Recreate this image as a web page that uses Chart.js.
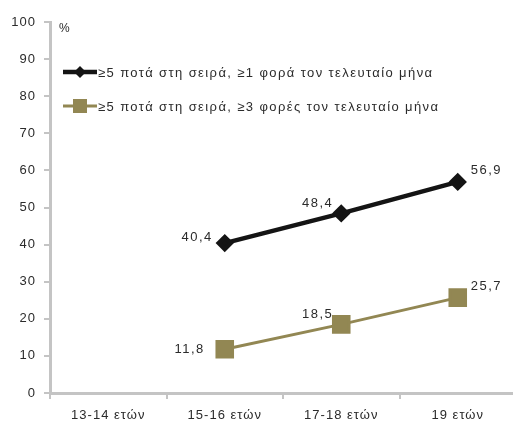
<!DOCTYPE html>
<html lang="el">
<head>
<meta charset="utf-8">
<script src="https://cdn.jsdelivr.net/npm/chart.js@4.4.1/dist/chart.umd.min.js"></script>
<style>
    html, body {
        margin: 0;
        padding: 0;
        background: #ffffff;
        overflow: hidden;
    }

    #wrap {
        position: relative;
        width: 513px;
        height: 426px;
        overflow: hidden;
    }
</style>
</head>
<body>
<div id="wrap">
    <!-- the plot runs past the right edge, so the canvas is a bit wider than the frame -->
    <canvas id="drinkChart" width="530" height="426"></canvas>
</div>

<script>
const ageGroups = ["13-14 ετών", "15-16 ετών", "17-18 ετών", "19 ετών"];

const onceLastMonth = [null, 40.4, 48.4, 56.9];
const threeTimesLastMonth = [null, 11.8, 18.5, 25.7];

const seriesNames = [
    "≥5 ποτά στη σειρά, ≥1 φορά τον τελευταίο μήνα",
    "≥5 ποτά στη σειρά, ≥3 φορές τον τελευταίο μήνα"
];

const yTicks = [0, 10, 20, 30, 40, 50, 60, 70, 80, 90, 100];

const FONT = "'Liberation Sans', Arial, sans-serif";
const TEXT_COLOR = "#2b2b2b";
const AXIS_COLOR = "#c4c4c4";

// wider tracking for all text drawn on the canvas
const tracking = {
    id: "tracking",
    beforeDraw(chart) {
        chart.ctx.letterSpacing = "1px";
    }
};

// value labels next to every point, Greek decimal comma
const valueLabels = {
    id: "valueLabels",
    afterDatasetsDraw(chart) {
        const ctx = chart.ctx;
        ctx.save();
        ctx.letterSpacing = "1.5px";
        ctx.font = "13px " + FONT;
        ctx.fillStyle = TEXT_COLOR;
        ctx.textBaseline = "middle";

        chart.data.datasets.forEach((ds, i) => {
            const meta = chart.getDatasetMeta(i);
            const last = ds.data.length - 1;

            meta.data.forEach((pt, j) => {
                const v = ds.data[j];
                if (v === null) {
                    return;
                }
                const txt = v.toFixed(1).replace(".", ",");

                if (j === last) {
                    ctx.textAlign = "left";
                    ctx.fillText(txt, pt.x + 13, pt.y - 11);
                } else if (j === 1) {
                    ctx.textAlign = "right";
                    ctx.fillText(txt, pt.x - (i === 0 ? 12 : 20), pt.y - (i === 0 ? 6 : 0));
                } else {
                    ctx.textAlign = "right";
                    ctx.fillText(txt, pt.x - 8, pt.y - 10);
                }
            });
        });

        ctx.restore();
    }
};

// legend sits inside the plot, under the "%" unit
const innerLegend = {
    id: "innerLegend",
    afterDraw(chart) {
        const ctx = chart.ctx;
        const area = chart.chartArea;
        ctx.save();

        ctx.font = "12px " + FONT;
        ctx.fillStyle = TEXT_COLOR;
        ctx.textAlign = "left";
        ctx.textBaseline = "middle";
        ctx.fillText("%", area.left + 9, area.top + 7);

        chart.data.datasets.forEach((ds, i) => {
            const y = area.top + 50 + i * 34;
            const x0 = area.left + 13;
            const x1 = area.left + 47;
            const mid = (x0 + x1) / 2;

            ctx.strokeStyle = ds.borderColor;
            ctx.lineWidth = ds.borderWidth;
            ctx.beginPath();
            ctx.moveTo(x0, y);
            ctx.lineTo(x1, y);
            ctx.stroke();

            ctx.fillStyle = ds.pointBackgroundColor;
            if (ds.pointStyle === "rectRot") {
                ctx.beginPath();
                ctx.moveTo(mid, y - 6);
                ctx.lineTo(mid + 6, y);
                ctx.lineTo(mid, y + 6);
                ctx.lineTo(mid - 6, y);
                ctx.closePath();
                ctx.fill();
            } else {
                ctx.fillRect(mid - 7, y - 7, 14, 14);
            }

            ctx.fillStyle = TEXT_COLOR;
            ctx.font = "13px " + FONT;
            ctx.letterSpacing = "1.4px";
            ctx.fillText(ds.label, x1 + 1, y + 1);
        });

        ctx.restore();
    }
};

const ctx = document.getElementById("drinkChart").getContext("2d");

new Chart(ctx, {
    type: "line",
    data: {
        labels: ageGroups,
        datasets: [
            {
                label: seriesNames[0],
                data: onceLastMonth,
                borderColor: "#141414",
                backgroundColor: "#141414",
                pointBackgroundColor: "#141414",
                pointBorderColor: "#141414",
                borderWidth: 4.5,
                pointStyle: "rectRot",
                pointRadius: 6,
                pointHoverRadius: 6
            },
            {
                label: seriesNames[1],
                data: threeTimesLastMonth,
                borderColor: "#928753",
                backgroundColor: "#928753",
                pointBackgroundColor: "#928753",
                pointBorderColor: "#928753",
                borderWidth: 3,
                pointStyle: "rect",
                pointRadius: 11,
                pointHoverRadius: 11
            }
        ]
    },
    options: {
        responsive: false,
        animation: false,
        events: [],
        layout: {
            padding: { top: 22, right: 0, left: 0, bottom: 0 }
        },
        plugins: {
            legend: { display: false },
            tooltip: { enabled: false }
        },
        scales: {
            x: {
                offset: true,
                grid: {
                    offset: true,
                    drawOnChartArea: false,
                    drawTicks: true,
                    tickLength: 6,
                    color: AXIS_COLOR,
                    lineWidth: 2
                },
                border: {
                    color: AXIS_COLOR,
                    width: 3
                },
                ticks: {
                    color: TEXT_COLOR,
                    font: { family: FONT, size: 13 },
                    padding: 9,
                    maxRotation: 0
                },
                afterFit(scale) {
                    scale.height = 33;
                }
            },
            y: {
                min: 0,
                max: 100,
                afterBuildTicks(scale) {
                    scale.ticks = yTicks.map(v => ({ value: v }));
                },
                grid: {
                    drawOnChartArea: false,
                    drawTicks: true,
                    tickLength: 6,
                    color: AXIS_COLOR,
                    lineWidth: 2
                },
                border: {
                    color: AXIS_COLOR,
                    width: 3
                },
                ticks: {
                    color: TEXT_COLOR,
                    font: { family: FONT, size: 13 },
                    padding: 8
                },
                afterFit(scale) {
                    scale.width = 50;
                }
            }
        }
    },
    plugins: [tracking, valueLabels, innerLegend]
});
</script>
</body>
</html>
